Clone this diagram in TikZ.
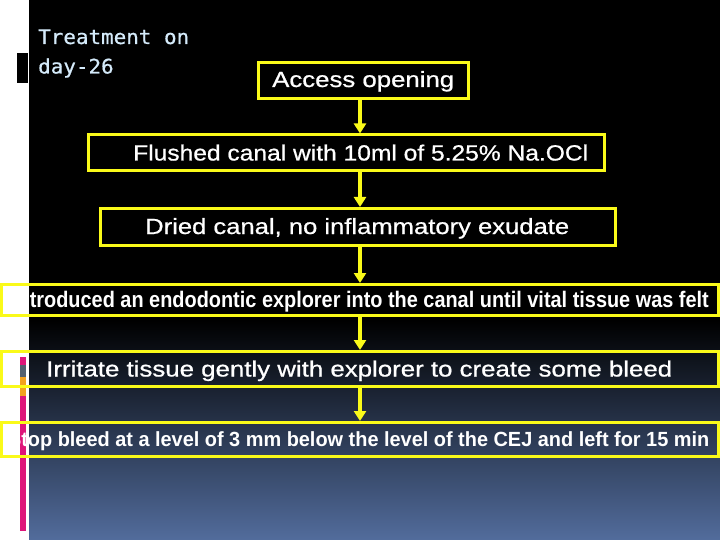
\documentclass[tikz,border=0pt]{standalone}
\usepackage{fontspec}
\setmainfont{Liberation Sans}
\newfontfamily\semib[FakeBold=0.7]{Liberation Sans}
\newfontfamily\monof[FakeBold=0.6]{DejaVu Sans Mono}
\usepackage{graphicx}
\usetikzlibrary{arrows.meta}
\definecolor{ybox}{RGB}{250,250,25}
\definecolor{tlblue}{RGB}{212,234,250}
\definecolor{bgbot}{RGB}{82,108,156}
\definecolor{pinkbar}{RGB}{222,22,122}
\definecolor{graybar}{RGB}{82,96,112}
\definecolor{orangebar}{RGB}{242,162,32}
% scale text horizontally so that the visible part #3 has width #1 (pt)
\newcommand\fitpart[3]{\sbox0{#3}\pgfmathsetmacro\fitsf{#1/\wd0}\scalebox{\fitsf}[1]{#2#3}}
\newcommand\fitall[2]{\resizebox{#1pt}{\height}{#2}}
\tikzset{
  stepbox/.style={draw=ybox, line width=3pt, inner sep=0pt},
  flow/.style={draw=ybox, line width=3.5pt, -{Triangle[length=10pt,width=12pt]}, shorten <=-0.5pt},
  btext/.style={text=white, inner sep=0pt, font=\fontsize{22}{22}\selectfont\semib},
  ntext/.style={text=white, inner sep=0pt, font=\fontsize{22.5}{22}\selectfont\bfseries},
  ttext/.style={text=tlblue, inner sep=0pt, anchor=base west, font=\fontsize{20}{20}\selectfont\monof},
}
\begin{document}
\begin{tikzpicture}[x=1pt,y=-1pt]
\useasboundingbox (0,0) rectangle (720,540);
% background
\fill[white] (0,0) rectangle (720,540);
\fill[black] (29,0) rectangle (720,320.5);
\shade[top color=black, bottom color=bgbot] (29,320) rectangle (720,540);
% left decorations
\fill[black] (17,53) rectangle (28,83);
\fill[pinkbar] (20,357) rectangle (26,531);
\fill[graybar] (20,365) rectangle (26,377);
\fill[orangebar] (20,377) rectangle (26,396);
% title
\node[ttext] (tt1) at (38,44) {\fitall{151}{Treatment on}};
\node[ttext] (tt2) at (38,73.5) {\fitall{75.5}{day-26}};
% boxes
\node[stepbox, minimum width=210pt, minimum height=36pt] (b1) at (363,80.5) {};
\node[stepbox, minimum width=515.5pt, minimum height=36pt] (b2) at (346.25,153) {};
\node[stepbox, minimum width=515.5pt, minimum height=36.5pt] (b3) at (357.75,226.75) {};
\node[stepbox, minimum width=717pt, minimum height=30.5pt] (b4) at (360,299.75) {};
\node[stepbox, minimum width=717pt, minimum height=35pt] (b5) at (360,369) {};
\node[stepbox, minimum width=717pt, minimum height=33.5pt] (b6) at (360,439.25) {};
% texts
\node[btext, anchor=base west] (t1) at (272,87) {\fitall{182}{Access opening}};
\node[btext, anchor=base west] (t2) at (133,160.5) {\fitall{455}{Flushed canal with 10ml of 5.25\% Na.OCl}};
\node[btext, anchor=base west] (t3) at (145,234) {\fitall{424}{Dried canal, no inflammatory exudate}};
\node[ntext, anchor=base east] (t4) at (709,307) {\fitpart{679}{In}{troduced an endodontic explorer into the canal until vital tissue was felt}};
\node[btext, anchor=base west] (t5) at (46,376.5) {\fitall{626}{Irritate tissue gently with explorer to create some bleed}};
\node[ntext, anchor=base east, font=\fontsize{20.5}{20}\selectfont\bfseries] (t6) at (709.5,446.5) {\fitpart{688}{S}{top bleed at a level of 3 mm below the level of the CEJ and left for 15 min}};
% arrows
\coordinate (ax) at (360,0);
\draw[flow] (b1.south -| ax) -- (b2.north -| ax);
\draw[flow] (b2.south -| ax) -- (b3.north -| ax);
\draw[flow] (b3.south -| ax) -- (b4.north -| ax);
\draw[flow] (b4.south -| ax) -- (b5.north -| ax);
\draw[flow] (b5.south -| ax) -- (b6.north -| ax);
\end{tikzpicture}
\end{document}
